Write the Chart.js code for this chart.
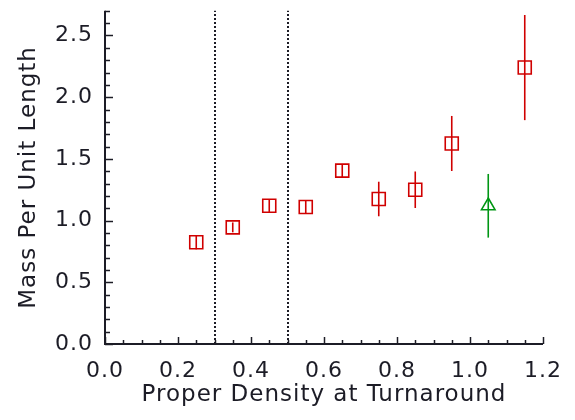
<!DOCTYPE html>
<html>
<head>
<meta charset="utf-8">
<title>Mass Per Unit Length vs Proper Density</title>
<script src="https://cdn.jsdelivr.net/npm/chart.js@4.4.1/dist/chart.umd.min.js"></script>
<style>
  html, body { margin: 0; padding: 0; background: #ffffff; }
  canvas { display: block; }
</style>
</head>
<body>
<canvas id="massChart" width="575" height="420"></canvas>
<script>
// --- Data ---
const densityRed = [0.25, 0.35, 0.45, 0.55, 0.65, 0.75, 0.85, 0.95, 1.15];
const massRed = [0.825, 0.945, 1.12, 1.11, 1.405, 1.175, 1.25, 1.625, 2.24];
const errRed = [0.058, 0.04, 0.05, 0.05, 0.054, 0.14, 0.148, 0.223, 0.426];

const densityGreen = [1.05];
const massGreen = [1.12];
const errGreen = [0.258];

const dividerLines = [0.3, 0.5];

const xTickValues = [0.0, 0.2, 0.4, 0.6, 0.8, 1.0, 1.2];
const yTickValues = [0.0, 0.5, 1.0, 1.5, 2.0, 2.5];

// --- Styles ---
const inkColor = '#1c1c26';
const redColor = 'rgb(208,0,0)';
const greenColor = 'rgb(0,150,20)';
const fontFamily = '"DejaVu Sans", sans-serif';

document.addEventListener('DOMContentLoaded', () => {
  const ctx = document.getElementById('massChart').getContext('2d');

  function toPoints(xs, ys, errs) {
    return xs.map((x, i) => ({ x: x, y: ys[i], err: errs[i] }));
  }

  // error bars, divider lines, axis lines and tick marks
  const extrasPlugin = {
    id: 'extras',
    beforeDraw(chart) {
      // the reference lettering is a bit wider than DejaVu
      chart.ctx.letterSpacing = '1px';
    },
    beforeDatasetsDraw(chart) {
      const c = chart.ctx;
      const xs = chart.scales.x;
      const ys = chart.scales.y;
      const area = chart.chartArea;

      c.save();
      // dotted vertical lines
      c.strokeStyle = inkColor;
      c.lineWidth = 2;
      c.setLineDash([2, 2]);
      dividerLines.forEach(v => {
        const px = Math.round(xs.getPixelForValue(v));
        c.beginPath();
        c.moveTo(px, area.bottom);
        c.lineTo(px, area.top);
        c.stroke();
      });
      c.setLineDash([]);

      // error bars
      chart.data.datasets.forEach((ds, i) => {
        if (!chart.isDatasetVisible(i)) return;
        c.strokeStyle = ds.borderColor;
        c.lineWidth = 1.6;
        ds.data.forEach(p => {
          const px = xs.getPixelForValue(p.x);
          c.beginPath();
          c.moveTo(px, ys.getPixelForValue(p.y - p.err));
          c.lineTo(px, ys.getPixelForValue(p.y + p.err));
          c.stroke();
        });
      });
      c.restore();
    },
    afterDraw(chart) {
      const c = chart.ctx;
      const xs = chart.scales.x;
      const ys = chart.scales.y;
      const area = chart.chartArea;

      c.save();
      c.strokeStyle = inkColor;
      c.lineWidth = 2;
      c.beginPath();
      c.moveTo(area.left, area.top);
      c.lineTo(area.left, area.bottom);
      c.lineTo(area.right, area.bottom);
      c.stroke();

      // y ticks every 0.1, longer at labelled values
      c.lineWidth = 1.5;
      for (let k = 0; k <= 27; k++) {
        const v = k / 10;
        const py = Math.round(ys.getPixelForValue(v)) + 0.5;
        const len = k % 5 === 0 ? 8 : 5;
        c.beginPath();
        c.moveTo(area.left, py);
        c.lineTo(area.left + len, py);
        c.stroke();
      }
      // x ticks every 0.05
      for (let k = 0; k <= 24; k++) {
        const v = k * 0.05;
        const px = Math.round(xs.getPixelForValue(v)) + 0.5;
        const len = k % 4 === 0 ? 7 : 4;
        c.beginPath();
        c.moveTo(px, area.bottom);
        c.lineTo(px, area.bottom - len);
        c.stroke();
      }
      c.restore();
    }
  };

  new Chart(ctx, {
    type: 'scatter',
    data: {
      datasets: [
        {
          label: 'Red',
          data: toPoints(densityRed, massRed, errRed),
          pointStyle: 'rect',
          pointRadius: 9.2,
          pointHoverRadius: 9.2,
          borderColor: redColor,
          backgroundColor: 'rgba(0,0,0,0)',
          pointBorderWidth: 1.6,
        },
        {
          label: 'Green',
          data: toPoints(densityGreen, massGreen, errGreen),
          pointStyle: 'triangle',
          pointRadius: 7.8,
          pointHoverRadius: 7.8,
          borderColor: greenColor,
          backgroundColor: 'rgba(0,0,0,0)',
          pointBorderWidth: 1.6,
        }
      ]
    },
    options: {
      responsive: false,
      animation: false,
      layout: { padding: { top: 8, right: 32, left: 0, bottom: 0 } },
      plugins: {
        legend: { display: false },
        tooltip: { enabled: false }
      },
      scales: {
        x: {
          type: 'linear',
          min: 0,
          max: 1.2,
          afterFit: scale => {
            scale.height = 76;
            scale.paddingLeft = 0;
            scale.paddingRight = 0;
          },
          afterBuildTicks: scale => { scale.ticks = xTickValues.map(v => ({ value: v })); },
          grid: { display: false, drawTicks: false },
          border: { display: false },
          ticks: {
            color: inkColor,
            padding: 14,
            maxRotation: 0,
            font: { family: fontFamily, size: 22 },
            callback: v => v.toFixed(1)
          },
          title: {
            display: true,
            text: 'Proper Density at Turnaround',
            color: inkColor,
            padding: { top: 0, bottom: 11 },
            font: { family: fontFamily, size: 23 }
          }
        },
        y: {
          type: 'linear',
          min: 0,
          max: 2.7,
          afterFit: scale => {
            scale.width = 105;
            scale.paddingTop = 0;
            scale.paddingBottom = 0;
          },
          afterBuildTicks: scale => { scale.ticks = yTickValues.map(v => ({ value: v })); },
          grid: { display: false, drawTicks: false },
          border: { display: false },
          ticks: {
            color: inkColor,
            padding: 12,
            font: { family: fontFamily, size: 22 },
            callback: v => v.toFixed(1)
          },
          title: {
            display: true,
            text: 'Mass Per Unit Length',
            color: inkColor,
            padding: { top: 15, bottom: 0 },
            font: { family: fontFamily, size: 23 }
          }
        }
      }
    },
    plugins: [extrasPlugin]
  });
});
</script>
</body>
</html>
